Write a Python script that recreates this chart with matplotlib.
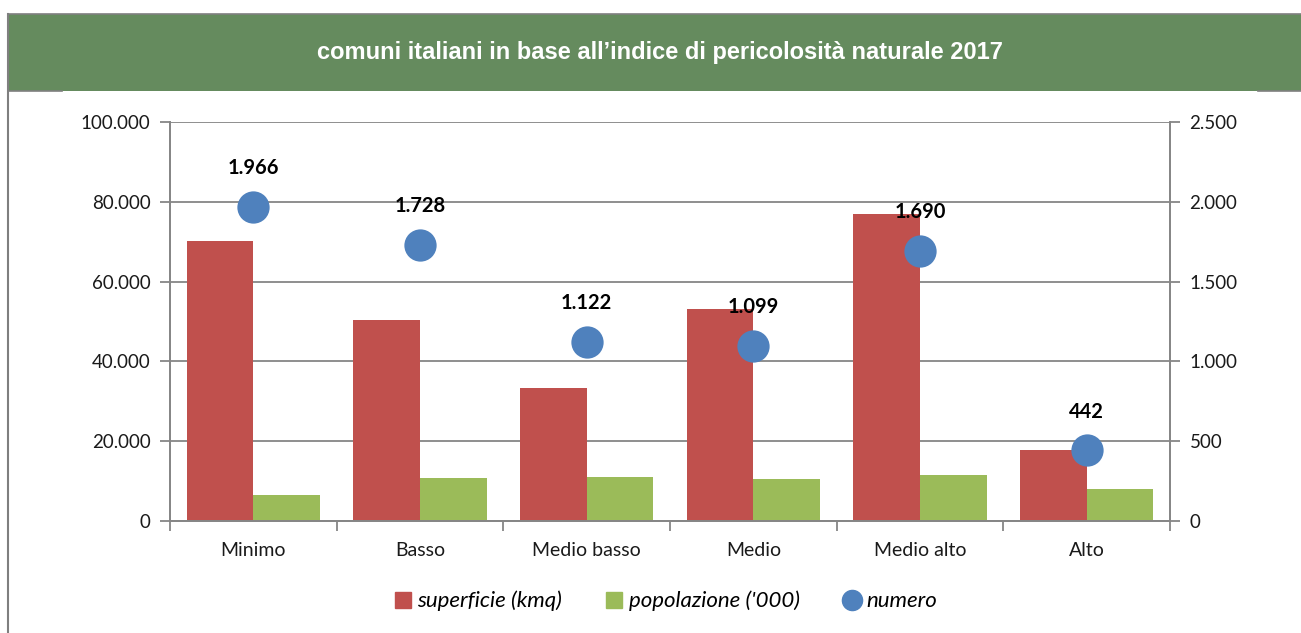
import matplotlib.pyplot as plt
from matplotlib.lines import Line2D
from matplotlib.patches import Rectangle
from matplotlib.ticker import FuncFormatter, FixedLocator
import numpy as np

categorie = ["Minimo", "Basso", "Medio basso", "Medio", "Medio alto", "Alto"]
superficie = [70200, 50400, 33300, 53100, 76900, 17900]
popolazione = [6500, 10800, 11100, 10600, 11600, 8000]
numero = [1966, 1728, 1122, 1099, 1690, 442]

titolo = "comuni italiani in base all\u2019indice di pericolosità naturale 2017"

ROSSO = "#C0504D"
VERDE = "#9BBB59"
BLU = "#4F81BD"
GRIGIO = "#868686"
FONT = ["Lato", "DejaVu Sans"]


def migliaia(v, pos=None):
    return f"{int(round(v)):,}".replace(",", ".")


W, H = 1301, 633
fig = plt.figure(figsize=(W / 100, H / 100), dpi=100)

# banner verde del titolo e cornice
fig.patches.append(Rectangle((8 / W, 1 - 91 / H), 1, 77 / H, transform=fig.transFigure,
                             facecolor="#658B5E", edgecolor="none", zorder=0))
fig.lines.append(Line2D([8 / W, 1], [1 - 14 / H, 1 - 14 / H], transform=fig.transFigure,
                        color="#7F7F7F", lw=1.2))
fig.lines.append(Line2D([8 / W, 8 / W], [0, 1 - 14 / H], transform=fig.transFigure,
                        color="#7F7F7F", lw=1.5))
fig.lines.append(Line2D([8 / W, 62 / W], [1 - 91 / H, 1 - 91 / H], transform=fig.transFigure,
                        color="#7F7F7F", lw=1.2))
fig.lines.append(Line2D([1258 / W, 1], [1 - 91 / H, 1 - 91 / H], transform=fig.transFigure,
                        color="#7F7F7F", lw=1.2))
fig.text(660 / W, 1 - 53 / H, titolo, color="white", fontsize=17, fontweight="bold",
         family=["Liberation Sans", "DejaVu Sans"], ha="center", va="center")

ax = fig.add_axes([170 / W, 1 - 521 / H, 1000 / W, 399 / H])
ax2 = ax.twinx()

x = np.arange(len(categorie))
ax.bar(x - 0.2, superficie, width=0.4, color=ROSSO, zorder=2)
ax.bar(x + 0.2, popolazione, width=0.4, color=VERDE, zorder=2)

ax.set_xlim(-0.5, len(categorie) - 0.5)
ax.set_ylim(0, 100000)
ax.set_yticks(np.arange(0, 100001, 20000))
ax.yaxis.set_major_formatter(FuncFormatter(migliaia))
ax.grid(axis="y", color=GRIGIO, lw=1.3, zorder=0)
ax.set_axisbelow(True)

ax.set_xticks(x)
ax.set_xticklabels(categorie)
ax.xaxis.set_minor_locator(FixedLocator(np.arange(-0.5, len(categorie), 1)))
ax.tick_params(axis="x", which="major", length=0, pad=15, labelsize=14)
ax.tick_params(axis="x", which="minor", length=7, color=GRIGIO, width=1.3, direction="out")
ax.tick_params(axis="y", length=7, color=GRIGIO, width=1.3, labelsize=13.5, pad=7)

ax2.set_ylim(0, 2500)
ax2.set_yticks(np.arange(0, 2501, 500))
ax2.yaxis.set_major_formatter(FuncFormatter(migliaia))
ax2.tick_params(axis="y", length=7, color=GRIGIO, width=1.3, labelsize=13.5, pad=7)

for a in (ax, ax2):
    a.spines["top"].set_visible(False)
    for s in ("left", "right", "bottom"):
        a.spines[s].set_color(GRIGIO)
        a.spines[s].set_linewidth(1.3)
    for lab in a.get_xticklabels() + a.get_yticklabels():
        lab.set_family(FONT)
        lab.set_color("#1a1a1a")

ax2.scatter(x, numero, s=540, color=BLU, zorder=4, linewidths=0)
for xi, v in zip(x, numero):
    ax2.annotate(migliaia(v), (xi, v), xytext=(0, 28), textcoords="offset points",
                 ha="center", va="center", fontsize=14.5, fontweight="bold",
                 family=FONT, zorder=5)

maniglie = [
    Line2D([], [], marker="s", ls="none", color=ROSSO, markersize=11.5, label="superficie (kmq)"),
    Line2D([], [], marker="s", ls="none", color=VERDE, markersize=11.5, label="popolazione ('000)"),
    Line2D([], [], marker="o", ls="none", color=BLU, markersize=14.5, label="numero"),
]
fig.legend(handles=maniglie, loc="center", bbox_to_anchor=(664 / W, 1 - 601 / H), ncol=3,
           frameon=False, handletextpad=0.1, columnspacing=1.8, handlelength=1.1,
           prop={"family": FONT, "style": "italic", "size": 16})

fig.savefig("out.png", dpi=100)
